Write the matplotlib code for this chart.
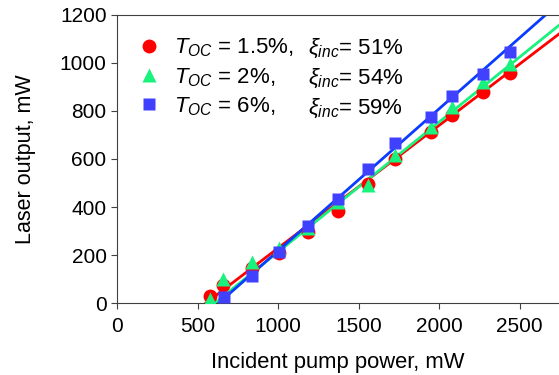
import matplotlib
matplotlib.use("Agg")
import matplotlib.pyplot as plt
import numpy as np

plt.rcParams['font.family'] = ['Liberation Sans', 'DejaVu Sans']
plt.rcParams['mathtext.fontset'] = 'custom'
plt.rcParams['mathtext.rm'] = 'Liberation Sans'
plt.rcParams['mathtext.it'] = 'Liberation Sans:italic'

# measured points (incident pump power, laser output), mW
red_x = [578, 660, 836, 1006, 1188, 1375, 1560, 1727, 1949, 2083, 2276, 2438]
red_y = [32, 76, 145, 208, 295, 385, 497, 600, 711, 783, 877, 957]
green_x = [578, 660, 836, 1006, 1188, 1375, 1560, 1727, 1949, 2083, 2276, 2438]
green_y = [20, 101, 170, 232, 315, 420, 490, 615, 734, 817, 918, 994]
blue_x = [664, 836, 1006, 1188, 1375, 1560, 1727, 1949, 2083, 2276, 2438]
blue_y = [28, 115, 213, 323, 434, 558, 667, 773, 863, 953, 1043]

# linear fits: slope efficiency and threshold
slopes = [0.51, 0.54, 0.59]
thresholds = [550, 605, 630]
toc = ['1.5%', '2%', '6%']
xi = ['51%', '54%', '59%']

fig = plt.figure(figsize=(5.59, 3.75), dpi=100)
ax = fig.add_axes([0.2093, 0.191, 0.7907, 0.770])

series = [(red_x, red_y, 'o', '#ff0000', '#ff0000', 10),
          (green_x, green_y, '^', '#19f27d', '#19f27d', 9.5),
          (blue_x, blue_y, 's', '#4040ff', '#0a3cff', 8.5)]

handles = []
for i, (xs, ys, m, mc, lc, ms) in enumerate(series):
    xx = np.linspace(thresholds[i], 2800, 50)
    ax.plot(xx, slopes[i] * (xx - thresholds[i]), color=lc, lw=2, zorder=2)
for i, (xs, ys, m, mc, lc, ms) in enumerate(series):
    h, = ax.plot(xs, ys, m, color=mc, ms=ms, mec='none', zorder=3 + i)
    handles.append(h)

labels = ['$T_{OC}$ = ' + t + ',' for t in toc]
ax.legend(handles, labels, loc='upper left', bbox_to_anchor=(0.0, 0.985),
          frameon=False, fontsize=16, handletextpad=0.45, labelspacing=0.3,
          borderaxespad=0.4, handlelength=1.3)
for i in range(3):
    ax.text(0.432, 0.882 - i * 0.104, r'$\xi_{inc}$' + '= ' + xi[i],
            transform=ax.transAxes, fontsize=16, va='center')

ax.set_xlim(0, 2745)
ax.set_ylim(0, 1200)
ax.set_xticks([0, 500, 1000, 1500, 2000, 2500])
ax.set_yticks([0, 200, 400, 600, 800, 1000, 1200])
ax.tick_params(labelsize=15, direction='out', length=4, color='#404040')
ax.tick_params(axis='x', pad=6)
ax.spines['right'].set_visible(False)
for s in ['left', 'bottom', 'top']:
    ax.spines[s].set_color('#404040')
ax.set_xlabel('Incident pump power, mW', fontsize=15.8, labelpad=11)
ax.set_ylabel('Laser output, mW', fontsize=15.5, labelpad=17)

fig.savefig('out.png', dpi=100)
